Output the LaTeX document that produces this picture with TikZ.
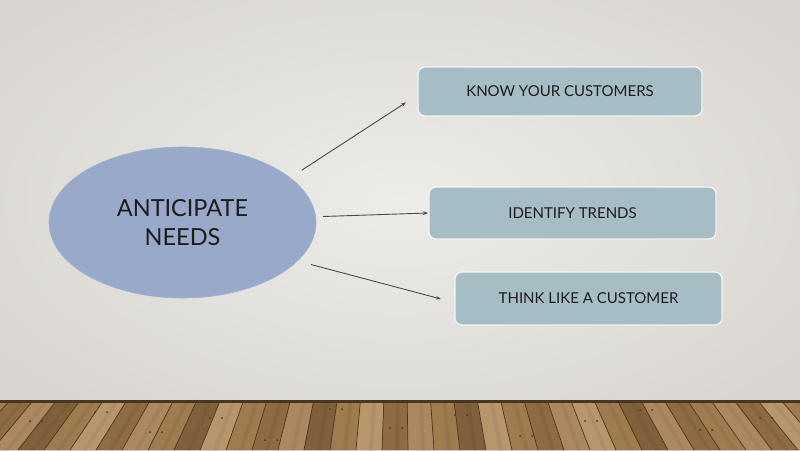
\documentclass[tikz,border=0pt]{standalone}
\usepackage{fontspec}
\setmainfont{Lato}
\usetikzlibrary{arrows.meta,shapes.geometric}
\definecolor{bgin}{HTML}{EDECE8}
\definecolor{bgout}{HTML}{D8D5D0}
\definecolor{ellfill}{HTML}{98A9CA}
\definecolor{boxfill}{HTML}{A6BDC5}
\definecolor{boxline}{HTML}{F4F4F2}
\definecolor{txt}{HTML}{1C1C1C}
\definecolor{arr}{HTML}{4A4A4A}
\definecolor{woodA}{HTML}{8E6B42}
\definecolor{woodB}{HTML}{9E7C50}
\definecolor{woodC}{HTML}{AC8860}
\definecolor{woodD}{HTML}{80603A}
\definecolor{woodE}{HTML}{B8966C}
\definecolor{woodline}{HTML}{4A3620}
\tikzset{
  boxnode/.style={rectangle, rounded corners=7pt, fill=boxfill, draw=boxline, line width=1.3pt,
    text=txt, font=\fontsize{15}{18}\selectfont, inner sep=0pt},
  ellnode/.style={ellipse, fill=ellfill, draw=ellfill!90!white, line width=0.6pt, inner sep=0pt,
    text=txt, align=center, font=\fontsize{23.5}{29}\selectfont},
  conn/.style={draw=arr, line width=0.9pt, -{Stealth[length=5pt,width=3.5pt]}},
}
\begin{document}
\begin{tikzpicture}[x=1pt,y=-1pt]
\useasboundingbox (0,0) rectangle (800,450);
% wall
\shade[inner color=bgin, outer color=bgout] (-120,-80) rectangle (920,480);
% floor
\fill[woodA] (0,401) rectangle (800,450);
\foreach \i/\c in {0/woodB,1/woodA,2/woodC,3/woodD,4/woodB,5/woodE,6/woodA,7/woodC,8/woodB,9/woodD,
  10/woodE,11/woodB,12/woodA,13/woodC,14/woodD,15/woodB,16/woodE,17/woodA,18/woodC,19/woodB,
  20/woodD,21/woodE,22/woodB,23/woodA,24/woodC,25/woodE,26/woodB,27/woodD,28/woodC,29/woodA,30/woodB,
  31/woodC,32/woodA,33/woodE,34/woodB,35/woodD}{
  \pgfmathsetmacro\xa{-60+\i*26}
  \pgfmathsetmacro\xb{-34+\i*26}
  \pgfmathsetmacro\ta{400+(\xa-400)*0.9}
  \pgfmathsetmacro\tb{400+(\xb-400)*0.9}
  \fill[\c] (\xa,450) -- (\xb,450) -- (\tb,401) -- (\ta,401) -- cycle;
  \fill[\c!85!black, opacity=0.35] ({(\xa+\xb)/2},450) -- ({(\xa+\xb)/2+4},450) -- ({(\ta+\tb)/2+4},401) -- ({(\ta+\tb)/2},401) -- cycle;
  \draw[woodline, line width=0.7pt] (\xa,450) -- (\ta,401);
}
\foreach \x/\y in {30/421,95/412,150/432,210/418,265/440,330/409,390/428,455/415,520/436,585/421,640/410,700/430,760/418}{
  \fill[woodline] (\x,\y) circle (1pt);
  \fill[woodline] (\x+12,\y) circle (1pt);
}
\fill[woodline] (0,400) rectangle (800,402.5);
% diagram
\node[ellnode, minimum width=267pt, minimum height=151pt] (ell) at (182.5,222.5) {ANTICIPATE\\NEEDS};
\node[boxnode, minimum width=284pt, minimum height=49pt] (b1) at (560,91.5) {KNOW YOUR CUSTOMERS};
\node[boxnode, minimum width=287pt, minimum height=52pt] (b2) at (572.5,213) {IDENTIFY TRENDS};
\node[boxnode, minimum width=267pt, minimum height=53pt] (b3) at (588.5,298.5) {THINK LIKE A CUSTOMER};
\coordinate (s1) at (302,170);
\coordinate (e1) at (406,102.5);
\coordinate (s2) at (323,216.5);
\coordinate (e2) at (428,213);
\coordinate (s3) at (311,264.5);
\coordinate (e3) at (441,299);
\draw[conn] (s1) -- (e1);
\draw[conn] (s2) -- (e2);
\draw[conn] (s3) -- (e3);
\end{tikzpicture}
\end{document}
